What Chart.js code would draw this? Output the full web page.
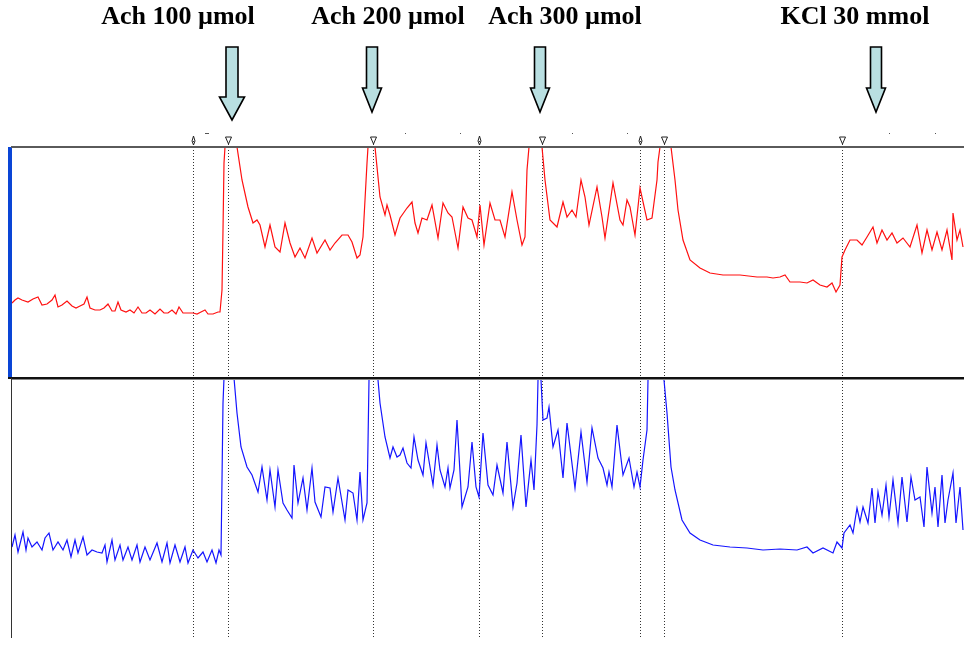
<!DOCTYPE html>
<html>
<head>
<meta charset="utf-8">
<script src="https://cdn.jsdelivr.net/npm/chart.js@4/dist/chart.umd.min.js"></script>
<style>
  html, body { margin: 0; padding: 0; background: #fff; }
  #wrap { width: 964px; height: 646px; position: relative; }
</style>
</head>
<body>
<div id="wrap"><canvas id="trace"></canvas></div>
<script>
// time in s, force in arbitrary units above each channel's floor
var redTime = [
    1, 4, 7, 11, 17, 22, 27, 31, 36, 41,
    44, 47, 51, 56, 61, 65, 69, 73, 76, 79,
    84, 89, 93, 97, 101, 104, 107, 110, 115, 119,
    123, 127, 131, 135, 139, 144, 149, 153, 157, 161,
    165, 168, 172, 177, 182, 186, 190, 194, 197, 202,
    207, 209, 211, 212, 213, 214, 219, 226, 231, 237,
    242, 246, 249, 254, 259, 264, 269, 274, 279, 284,
    289, 294, 301, 306, 314, 319, 324, 331, 337, 341,
    346, 349, 352, 356, 357, 360, 364, 369, 374, 376,
    379, 384, 389, 396, 401, 404, 407, 411, 416, 421,
    427, 432, 437, 441, 447, 452, 457, 461, 466, 469,
    473, 479, 484, 489, 494, 501, 506, 511, 514, 516,
    518, 524, 531, 534, 539, 546, 552, 556, 561, 565,
    570, 574, 578, 586, 591, 594, 602, 609, 612, 616,
    619, 624, 629, 636, 641, 646, 647, 649, 655, 660,
    664, 667, 672, 679, 689, 699, 712, 729, 746, 756,
    762, 769, 774, 779, 789, 796, 802, 809, 816, 821,
    825, 829, 831, 834, 839, 846, 851, 856, 862, 866,
    871, 876, 881, 886, 892, 899, 906, 911, 916, 921,
    926, 931, 936, 941, 942, 946, 949, 952
];
var redForce = [
    75, 78, 80, 78, 76, 79, 81, 73, 74, 78,
    83, 71, 73, 77, 72, 70, 72, 74, 81, 70,
    68, 68, 70, 74, 67, 67, 76, 68, 66, 68,
    65, 71, 65, 65, 68, 64, 69, 65, 65, 68,
    64, 71, 65, 65, 65, 64, 66, 68, 64, 64,
    66, 66, 88, 148, 215, 231, 300, 231, 198, 171,
    155, 158, 153, 131, 153, 131, 126, 155, 135, 121,
    130, 120, 140, 125, 138, 128, 135, 143, 143, 136,
    120, 123, 141, 215, 231, 300, 231, 181, 163, 173,
    163, 143, 160, 170, 176, 155, 145, 160, 158, 173,
    140, 175, 165, 161, 130, 171, 160, 158, 141, 173,
    133, 175, 158, 158, 141, 186, 158, 133, 141, 208,
    231, 300, 231, 198, 158, 151, 176, 161, 168, 161,
    198, 181, 153, 191, 161, 140, 195, 158, 153, 178,
    171, 143, 190, 158, 160, 198, 216, 231, 300, 231,
    198, 168, 138, 118, 110, 105, 103, 103, 101, 101,
    100, 101, 103, 96, 96, 95, 98, 93, 91, 95,
    86, 93, 121, 128, 138, 138, 133, 141, 151, 135,
    148, 138, 145, 135, 140, 131, 153, 125, 148, 128,
    146, 128, 148, 118, 165, 138, 148, 131
];
var blueTime = [
    1, 4, 7, 12, 15, 17, 21, 26, 31, 34,
    38, 42, 47, 52, 56, 60, 64, 67, 72, 76,
    81, 86, 91, 94, 96, 101, 104, 109, 112, 117,
    121, 126, 129, 134, 139, 146, 151, 156, 159, 164,
    169, 174, 177, 182, 187, 192, 196, 201, 205, 208,
    210, 211, 212, 213, 218, 223, 226, 230, 236, 241,
    247, 251, 256, 259, 264, 267, 272, 276, 281, 283,
    287, 292, 296, 301, 304, 310, 314, 319, 322, 327,
    334, 337, 342, 346, 349, 352, 356, 357, 358, 362,
    367, 369, 374, 379, 382, 386, 389, 392, 396, 400,
    403, 407, 412, 415, 422, 426, 429, 434, 437, 439,
    443, 446, 451, 457, 461, 465, 468, 472, 477, 482,
    486, 492, 496, 502, 506, 510, 515, 520, 523, 526,
    527, 529, 530, 532, 536, 538, 542, 547, 552, 556,
    564, 570, 576, 581, 587, 592, 596, 598, 601, 606,
    612, 618, 623, 626, 629, 632, 636, 637, 645, 653,
    656, 660, 664, 671, 679, 689, 702, 719, 736, 752,
    769, 786, 796, 802, 812, 822, 826, 831, 833, 839,
    842, 846, 849, 852, 857, 861, 864, 867, 871, 875,
    878, 882, 887, 891, 896, 900, 904, 909, 913, 916,
    921, 924, 927, 931, 934, 937, 942, 945, 949, 952
];
var blueForce = [
    91, 103, 86, 106, 88, 100, 91, 96, 88, 100,
    105, 88, 96, 88, 98, 81, 98, 85, 101, 83,
    88, 86, 85, 93, 76, 98, 78, 93, 78, 91,
    78, 93, 76, 91, 78, 95, 76, 95, 75, 93,
    76, 91, 75, 88, 80, 86, 76, 88, 75, 88,
    83, 158, 235, 260, 320, 260, 225, 191, 171, 163,
    146, 171, 138, 168, 131, 168, 135, 128, 120, 173,
    135, 160, 128, 170, 136, 121, 151, 150, 126, 160,
    118, 148, 145, 118, 166, 118, 135, 195, 258, 320,
    258, 235, 201, 180, 191, 181, 183, 190, 175, 170,
    201, 178, 163, 195, 153, 193, 168, 151, 170, 150,
    168, 218, 131, 151, 196, 151, 141, 205, 153, 143,
    173, 145, 196, 131, 155, 203, 131, 178, 148, 213,
    258, 320, 258, 218, 220, 231, 191, 208, 160, 215,
    150, 206, 156, 210, 180, 170, 153, 166, 151, 213,
    163, 180, 151, 166, 151, 178, 208, 258, 320, 258,
    225, 171, 148, 118, 105, 98, 93, 91, 90, 88,
    89, 88, 91, 85, 90, 85, 96, 90, 105, 113,
    105, 130, 116, 131, 115, 150, 115, 146, 123, 153,
    121, 158, 115, 161, 116, 161, 138, 141, 111, 171,
    125, 151, 111, 163, 115, 138, 165, 115, 151, 108
];

// event marks on the time axis (add = drug added, mark = wash / note)
var eventTimes = [182, 217, 362, 468, 531, 629, 653, 831];
var eventKinds = ["mark", "add", "add", "mark", "add", "mark", "add", "add"];
var minorTicks = [194, 394, 449, 561, 616, 878, 924];

// doses, with the time their arrow points at
var doseLabels = ["Ach 100 \u00b5mol", "Ach 200 \u00b5mol", "Ach 300 \u00b5mol", "KCl 30 mmol"];
var doseTimes = [221, 361, 529, 865];

function toPoints(xs, ys) {
    return xs.map(function (x, i) { return { x: x, y: ys[i] }; });
}

// keep each trace inside its own channel strip
var channelClip = {
    id: "channelClip",
    beforeDatasetDraw: function (chart, args) {
        var y = chart.scales[args.meta.yAxisID];
        var a = chart.chartArea;
        var ctx = chart.ctx;
        ctx.save();
        ctx.beginPath();
        ctx.rect(a.left, y.top, a.right - a.left, y.bottom - y.top);
        ctx.clip();
    },
    afterDatasetDraw: function (chart) {
        chart.ctx.restore();
    },
};

function arrow(ctx, cx, top, tip, shaftW, headW, headH) {
    ctx.beginPath();
    ctx.moveTo(cx - shaftW / 2, top);
    ctx.lineTo(cx + shaftW / 2, top);
    ctx.lineTo(cx + shaftW / 2, tip - headH);
    ctx.lineTo(cx + headW / 2, tip - headH);
    ctx.lineTo(cx, tip);
    ctx.lineTo(cx - headW / 2, tip - headH);
    ctx.lineTo(cx - shaftW / 2, tip - headH);
    ctx.closePath();
    ctx.fillStyle = "#b9dfe1";
    ctx.fill();
    ctx.lineWidth = 1.6;
    ctx.strokeStyle = "#000";
    ctx.stroke();
}

var recorderDecor = {
    id: "recorderDecor",
    beforeDatasetsDraw: function (chart) {
        var ctx = chart.ctx;
        var x = chart.scales.x;
        var a = chart.chartArea;
        ctx.save();
        ctx.strokeStyle = "#333";
        ctx.lineWidth = 1;
        ctx.setLineDash([1, 2]);
        eventTimes.forEach(function (t) {
            var px = Math.round(x.getPixelForValue(t)) + 0.5;
            ctx.beginPath();
            ctx.moveTo(px, a.top - 6);
            ctx.lineTo(px, a.bottom);
            ctx.stroke();
        });
        ctx.restore();
    },
    afterDraw: function (chart) {
        var ctx = chart.ctx;
        var x = chart.scales.x;
        var yTop = chart.scales.yRed;
        var yBot = chart.scales.yBlue;
        var a = chart.chartArea;
        ctx.save();

        // channel frames
        ctx.fillStyle = "#0a45d6";
        ctx.fillRect(a.left - 3, yTop.top, 4, yTop.bottom - yTop.top);
        ctx.fillStyle = "#5a5a5a";
        ctx.fillRect(a.left, yTop.top - 1, a.right - a.left, 2);
        ctx.fillStyle = "#111";
        ctx.fillRect(a.left - 3, yBot.top - 1, a.right - a.left + 3, 2);
        ctx.fillStyle = "#888";
        ctx.fillRect(a.left, yBot.top + 1, a.right - a.left, 1);
        ctx.fillStyle = "#333";
        ctx.fillRect(a.left, yBot.top, 1, yBot.bottom - yBot.top);

        // event symbols above the trace
        ctx.lineWidth = 1;
        ctx.strokeStyle = "#222";
        eventTimes.forEach(function (t, i) {
            var px = Math.round(x.getPixelForValue(t)) + 0.5;
            ctx.beginPath();
            if (eventKinds[i] === "add") {
                ctx.moveTo(px - 3, yTop.top - 10);
                ctx.lineTo(px + 3, yTop.top - 10);
                ctx.lineTo(px, yTop.top - 3);
                ctx.closePath();
                ctx.fillStyle = "#fff";
                ctx.fill();
            } else {
                ctx.moveTo(px, yTop.top - 11);
                ctx.lineTo(px - 1.5, yTop.top - 6);
                ctx.lineTo(px, yTop.top - 2);
                ctx.lineTo(px + 1.5, yTop.top - 6);
                ctx.closePath();
            }
            ctx.stroke();
        });
        ctx.fillStyle = "#555";
        minorTicks.forEach(function (t, i) {
            var px = Math.round(x.getPixelForValue(t));
            ctx.fillRect(px, yTop.top - 14, i === 0 ? 4 : 1, 1);
        });

        // dose arrows and labels
        var labelShift = [-54, 16, 25, -21];
        doseTimes.forEach(function (t, i) {
            var px = x.getPixelForValue(t);
            if (i === 0) {
                arrow(ctx, px, 47, 120, 12, 25, 23);
            } else {
                arrow(ctx, px, 47, 112, 11, 19, 24);
            }
            ctx.fillStyle = "#000";
            ctx.font = "bold 26px 'Liberation Serif', 'Times New Roman', serif";
            ctx.textAlign = "center";
            ctx.textBaseline = "alphabetic";
            ctx.fillText(doseLabels[i], px + labelShift[i], 24);
        });
        ctx.restore();
    },
};

var ctx = document.getElementById("trace").getContext("2d");

var traceChart = new Chart(ctx, {
    type: "line",
    data: {
        datasets: [
            {
                label: "Channel 1",
                data: toPoints(redTime, redForce),
                yAxisID: "yRed",
                borderColor: "#ff1010",
                borderWidth: 1.2,
                pointRadius: 0,
                tension: 0,
            },
            {
                label: "Channel 2",
                data: toPoints(blueTime, blueForce),
                yAxisID: "yBlue",
                borderColor: "#1515ff",
                borderWidth: 1.2,
                pointRadius: 0,
                tension: 0,
            },
        ],
    },
    options: {
        responsive: true,
        maintainAspectRatio: false,
        animation: false,
        events: [],
        layout: {
            padding: { top: 147, left: 11, right: 0, bottom: 8 },
        },
        plugins: {
            legend: { display: false },
            tooltip: { enabled: false },
        },
        scales: {
            x: {
                type: "linear",
                min: 0,
                max: 953,
                display: false,
            },
            // stacked channels: the axis listed last is laid out on top
            yBlue: {
                type: "linear",
                position: "left",
                stack: "channels",
                stackWeight: 260,
                min: 0,
                max: 260,
                display: false,
            },
            yRed: {
                type: "linear",
                position: "left",
                stack: "channels",
                stackWeight: 231,
                min: 0,
                max: 231,
                display: false,
            },
        },
    },
    plugins: [channelClip, recorderDecor],
});
</script>
</body>
</html>
